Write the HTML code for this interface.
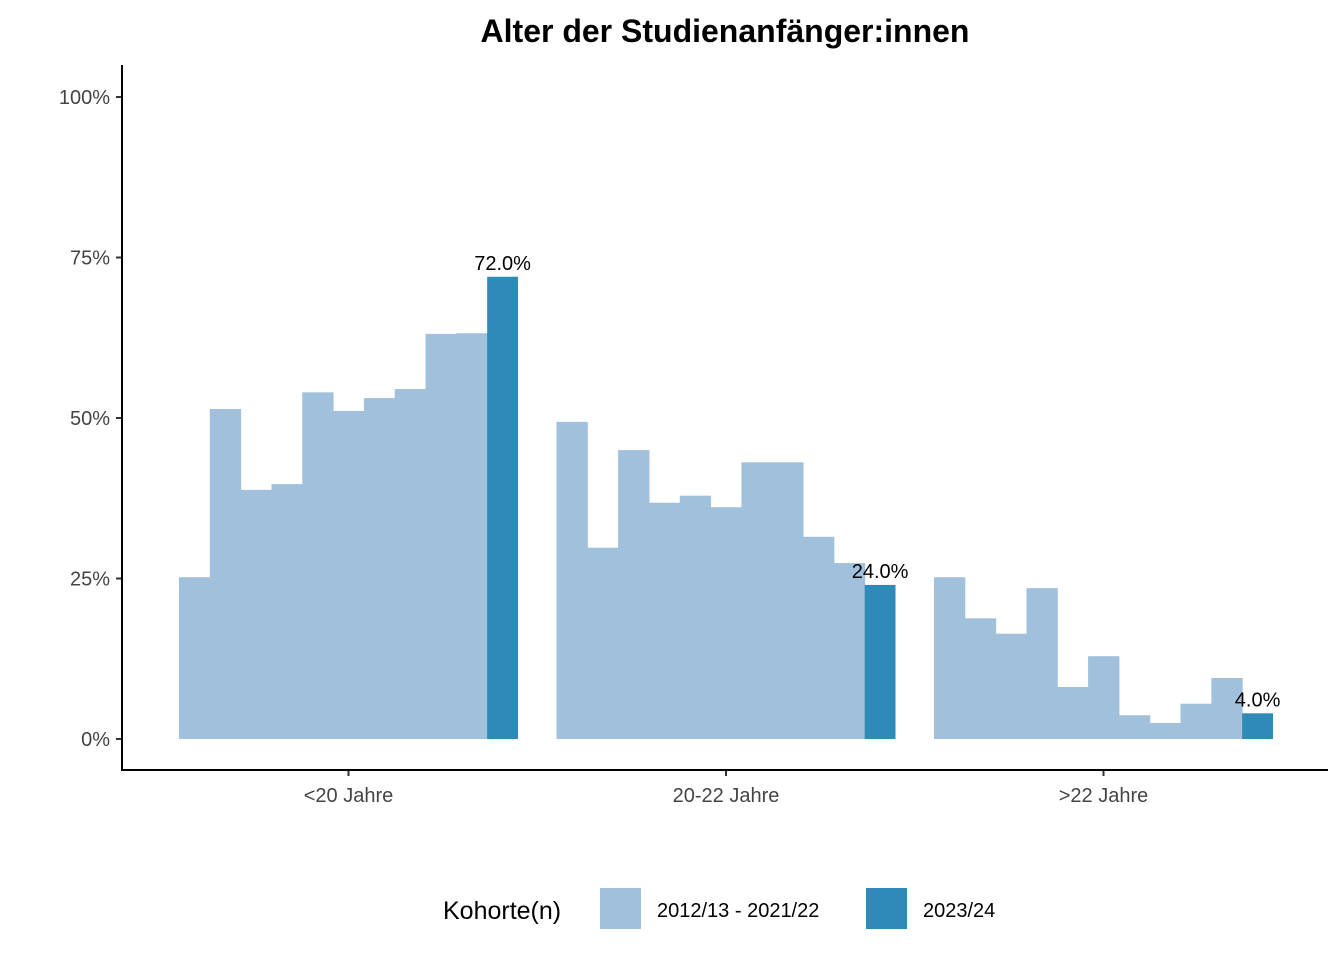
<!DOCTYPE html>
<html><head><meta charset="utf-8"><style>
body{margin:0;background:#fff;font-family:"Liberation Sans",Arial,sans-serif}
</style></head><body>
<svg width="1344" height="960" xmlns="http://www.w3.org/2000/svg" font-family="Liberation Sans, Arial, sans-serif">
<text x="725" y="42" text-anchor="middle" font-size="32" font-weight="bold">Alter der Studienanfänger:innen</text>
<g id="bars"></g>
<g id="axes"></g>
<g>
<text x="443" y="919" font-size="25">Kohorte(n)</text>
<rect x="600" y="888" width="41" height="41" fill="#a0c0dc"/>
<text x="657" y="917" font-size="20">2012/13 - 2021/22</text>
<rect x="866" y="888" width="41" height="41" fill="#2e8bb8"/>
<text x="923" y="917" font-size="20">2023/24</text>
</g>
</svg>
<script>
const categories=["<20 Jahre","20-22 Jahre",">22 Jahre"];
const histValues=[
[25.2,51.4,38.8,39.7,54.0,51.1,53.1,54.5,63.1,63.2],
[49.4,29.8,45.0,36.8,37.9,36.1,43.1,43.1,31.5,27.4],
[25.2,18.8,16.4,23.5,8.1,12.9,3.7,2.5,5.5,9.5]];
const currentValues=[72.0,24.0,4.0];
const yTicks=[0,25,50,75,100];
const NS="http://www.w3.org/2000/svg";
const y=v=>739-v*6.42;
const cx=i=>348.5+i*377.5;
const bw=339/11;
const bars=document.getElementById('bars'),axes=document.getElementById('axes');
function mk(t,a,p){const e=document.createElementNS(NS,t);for(const k in a)e.setAttribute(k,a[k]);p.appendChild(e);return e;}
categories.forEach((c,i)=>{
 const x0=cx(i)-bw*5.5;
 histValues[i].forEach((v,j)=>{
  const r=mk('rect',{x:x0+j*bw,y:y(v),width:bw+0.5,height:y(0)-y(v),fill:'#a0c0dc'},bars);
  
  
 });
 const v=currentValues[i];
 const r=mk('rect',{x:x0+10*bw,y:y(v),width:bw,height:y(0)-y(v),fill:'#2e8bb8'},bars);
 
 
 const t=mk('text',{x:x0+10.5*bw,y:y(v)-7,'text-anchor':'middle','font-size':20},bars);
 t.textContent=v.toFixed(1)+'%';
 
 
 mk('line',{x1:cx(i),x2:cx(i),y1:770,y2:776,stroke:'#333','stroke-width':2},axes);
 const l=mk('text',{x:cx(i),y:802,'text-anchor':'middle','font-size':20,fill:'#444'},axes);
 l.textContent=c;
 
 
});
yTicks.forEach(v=>{
 mk('line',{x1:116,x2:122,y1:y(v),y2:y(v),stroke:'#333','stroke-width':2},axes);
 const l=mk('text',{x:110,y:y(v)+7,'text-anchor':'end','font-size':20,fill:'#444'},axes);
 l.textContent=v+'%';
 
 
});
const ya=mk('line',{x1:122,x2:122,y1:65,y2:771,stroke:'#000','stroke-width':2},axes);


const xa=mk('line',{x1:121,x2:1328,y1:770,y2:770,stroke:'#000','stroke-width':2},axes);


</script>
</body></html>
